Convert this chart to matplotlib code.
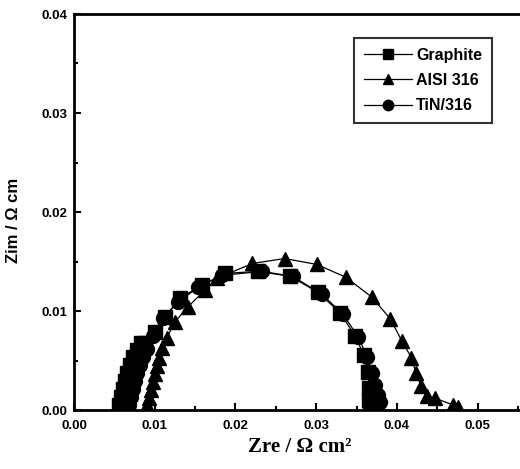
import matplotlib
matplotlib.use("Agg")
import matplotlib.pyplot as plt
from matplotlib.ticker import MultipleLocator

# Data (Zre, -Zim) in ohm cm^2
graphite_x = [0.0056, 0.0058, 0.0061, 0.0063, 0.0066, 0.0069, 0.0073, 0.0078, 0.0083,
              0.0088, 0.0100, 0.0113, 0.0131, 0.0159, 0.0187, 0.0228, 0.0268, 0.0302,
              0.0330, 0.0348, 0.0359, 0.0364, 0.0366, 0.0366, 0.0367]
graphite_y = [0.0005, 0.0013, 0.0021, 0.0029, 0.0037, 0.0045, 0.0054, 0.0061, 0.0068,
              0.0068, 0.0079, 0.0094, 0.0113, 0.0126, 0.0138, 0.0140, 0.0135, 0.0119,
              0.0098, 0.0075, 0.0056, 0.0038, 0.0022, 0.0010, 0.0003]

aisi_x = [0.0090, 0.0093, 0.0095, 0.0098, 0.0100, 0.0103, 0.0105, 0.0109, 0.0115,
          0.0125, 0.0141, 0.0162, 0.0177, 0.0221, 0.0261, 0.0301, 0.0337, 0.0369,
          0.0392, 0.0406, 0.0418, 0.0424, 0.0430, 0.0437, 0.0447, 0.0470, 0.0476]
aisi_y = [0.0005, 0.0012, 0.0020, 0.0028, 0.0036, 0.0044, 0.0053, 0.0063, 0.0073,
          0.0089, 0.0104, 0.0121, 0.0133, 0.0148, 0.0153, 0.0147, 0.0134, 0.0114,
          0.0092, 0.0070, 0.0053, 0.0037, 0.0024, 0.0014, 0.0012, 0.0005, 0.0003]

tin_x = [0.0068, 0.0071, 0.0073, 0.0076, 0.0078, 0.0082, 0.0086, 0.0090, 0.0098,
         0.0110, 0.0129, 0.0154, 0.0183, 0.0233, 0.0271, 0.0307, 0.0333, 0.0352,
         0.0363, 0.0369, 0.0373, 0.0377, 0.0379, 0.0375]
tin_y = [0.0005, 0.0013, 0.0021, 0.0029, 0.0037, 0.0045, 0.0054, 0.0062, 0.0075,
         0.0093, 0.0109, 0.0124, 0.0136, 0.0140, 0.0135, 0.0117, 0.0097, 0.0074,
         0.0054, 0.0037, 0.0025, 0.0015, 0.0008, 0.0003]

labels = ["Graphite", "AISI 316", "TiN/316"]

W, H = 520, 469
fig = plt.figure(figsize=(W / 100, H / 100), dpi=100)
left_px, right_px, top_px, bottom_px = 74, 526, 14, 410
ax = fig.add_axes([left_px / W, 1 - bottom_px / H,
                   (right_px - left_px) / W, (bottom_px - top_px) / H])

ms = 10
ax.plot(graphite_x, graphite_y, '-s', color='black', lw=0.9, ms=ms, label=labels[0])
ax.plot(aisi_x, aisi_y, '-^', color='black', lw=0.9, ms=ms, label=labels[1])
ax.plot(tin_x, tin_y, '-o', color='black', lw=0.9, ms=ms, label=labels[2])

ax.set_xlim(0, 0.056)
ax.set_ylim(0, 0.04)
ax.xaxis.set_major_locator(MultipleLocator(0.01))
ax.xaxis.set_minor_locator(MultipleLocator(0.005))
ax.yaxis.set_major_locator(MultipleLocator(0.01))
ax.yaxis.set_minor_locator(MultipleLocator(0.005))
ax.xaxis.set_major_formatter(plt.FormatStrFormatter('%.2f'))
ax.yaxis.set_major_formatter(plt.FormatStrFormatter('%.2f'))
ax.tick_params(which='both', direction='in', top=False, right=False, width=1.5)
ax.tick_params(which='major', length=5)
ax.tick_params(which='minor', length=3)
for lab in ax.get_xticklabels() + ax.get_yticklabels():
    lab.set_fontfamily('Liberation Sans')
    lab.set_fontweight('bold')
    lab.set_fontsize(9.5)
ax.tick_params(axis='x', pad=7)
ax.tick_params(axis='y', pad=5)
for sp in ax.spines.values():
    sp.set_linewidth(2)

ax.set_xlabel("Zre / \u03a9 cm\u00b2", fontfamily='Liberation Serif', fontweight='bold',
              fontsize=15, labelpad=4)
fig.text(14 / W, 1 - 220 / H, "Zim / \u03a9 cm", rotation=90, ha='center', va='center',
         fontfamily='Liberation Sans', fontweight='bold', fontsize=12)

leg = ax.legend(loc='upper left', bbox_to_anchor=((354 - left_px) / (right_px - left_px),
                1 - (38 - top_px) / (bottom_px - top_px)),
                prop={'family': 'Liberation Sans', 'weight': 'bold', 'size': 11.5},
                frameon=True, fancybox=False, edgecolor='black', handlelength=3.0,
                handletextpad=0.3, labelspacing=0.65, borderpad=0.6, markerscale=0.75,
                borderaxespad=0)
leg.get_frame().set_linewidth(1.5)

fig.savefig("out.png", dpi=100)
